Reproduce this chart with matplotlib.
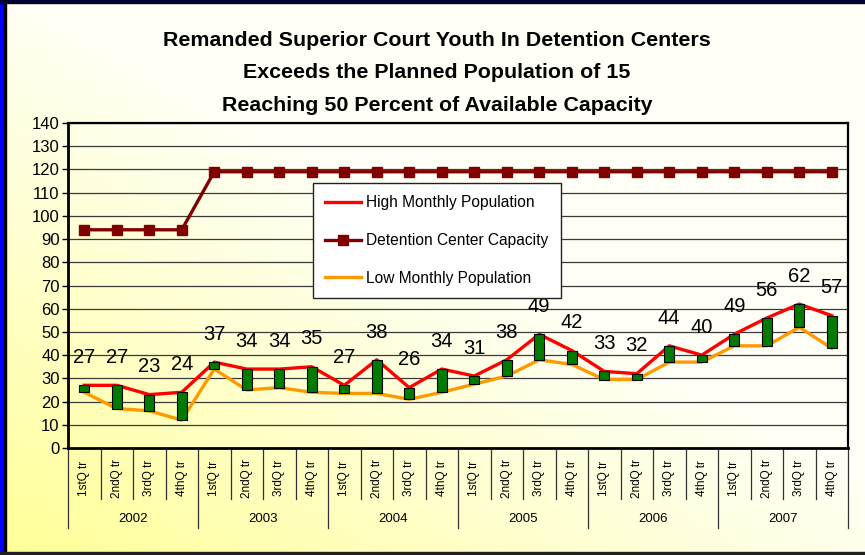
import numpy as np
import matplotlib
matplotlib.use('Agg')
import matplotlib.pyplot as plt
from matplotlib.patches import Rectangle
from matplotlib.lines import Line2D
import matplotlib.transforms as mtrans

years = ['2002', '2003', '2004', '2005', '2006', '2007']
quarters = ['1stQ tr', '2ndQ tr', '3rdQ tr', '4thQ tr']
high = [27, 27, 23, 24, 37, 34, 34, 35, 27, 38, 26, 34,
        31, 38, 49, 42, 33, 32, 44, 40, 49, 56, 62, 57]
low = [24, 17, 16, 12, 34, 25, 26, 24, 23.5, 23.5, 21, 24,
       27.5, 31, 38, 36, 29.5, 29.5, 37, 37, 44, 44, 52, 43]
capacity = [94, 94, 94, 94] + [119] * 20
title_lines = ['Remanded Superior Court Youth In Detention Centers',
               'Exceeds the Planned Population of 15',
               'Reaching 50 Percent of Available Capacity']

FONT = ['Liberation Sans', 'DejaVu Sans']

W, H = 865, 555
fig = plt.figure(figsize=(W / 100, H / 100), dpi=100)

# background gradient
bg = fig.add_axes([0, 0, 1, 1], zorder=-10)
yy, xx = np.mgrid[0:1:200j, 0:1:300j]
t = np.clip(1 - (xx * 0.9 + yy) / 1.05, 0, 1) ** 1.1
c1 = np.array([255, 255, 246]) / 255
c2 = np.array([255, 255, 150]) / 255
img = c1 * (1 - t[..., None]) + c2 * t[..., None]
bg.imshow(img, origin='lower', extent=[0, 1, 0, 1], aspect='auto')
bg.set_xlim(0, 1); bg.set_ylim(0, 1)
bg.axis('off')
# borders
bg.add_patch(Rectangle((0, 0), 4 / W, 1, color='#0000FF', transform=bg.transAxes, zorder=5))
bg.add_patch(Rectangle((4 / W, 0), 1.5 / W, 1, color='#000000', transform=bg.transAxes, zorder=5))
bg.add_patch(Rectangle((0, 1 - 3 / H), 1, 3 / H, color='#000033', transform=bg.transAxes, zorder=5))
bg.add_patch(Rectangle((0, 0), 1, 3 / H, color='#202020', transform=bg.transAxes, zorder=5))

# main axes
ax = fig.add_axes([68 / W, 1 - 448 / H, 780 / W, 325 / H])
ax.patch.set_alpha(0)
x = np.arange(len(high))
ax.plot(x, high, color='#FF0000', lw=2.4, zorder=3, solid_joinstyle='round')
ax.plot(x, low, color='#FF9900', lw=2.4, zorder=3, solid_joinstyle='round')
ax.plot(x, capacity, color='#800000', lw=2.4, marker='s', ms=7.5, zorder=3)
ax.bar(x, np.array(high) - np.array(low), bottom=low, width=0.3,
       color='#007A00', edgecolor='black', lw=0.8, zorder=4)

for xi, h in zip(x, high):
    ax.annotate(str(h), (xi, h), xytext=(0, 20), textcoords='offset points',
                ha='center', va='center', fontsize=14.5, family=FONT, zorder=5)

ax.set_xlim(-0.5, len(high) - 0.5)
ax.set_ylim(0, 140)
ax.set_yticks(np.arange(0, 141, 10))
ax.set_yticklabels([str(v) for v in range(0, 141, 10)], family=FONT, fontsize=12)
ax.tick_params(axis='y', length=4, width=1, direction='out', pad=2)
ax.set_xticks([])
ax.yaxis.grid(True, color='#3a3a3a', lw=0.9)
ax.set_axisbelow(True)
for s in ax.spines.values():
    s.set_color('black')
    s.set_linewidth(1.6)
ax.spines['left'].set_linewidth(2)
ax.spines['bottom'].set_linewidth(2)

# two-level category axis
trans = mtrans.blended_transform_factory(ax.transData, ax.transAxes)
q_y = (448 - 478) / 325
yr_y = (448 - 519) / 325
q_end = (448 - 499) / 325
yr_end = (448 - 528) / 325
for i in range(len(high)):
    ax.text(i, q_y, quarters[i % 4], rotation=90, ha='center', va='center',
            fontsize=8.5, family=FONT, transform=trans, clip_on=False)
for b in range(len(high) + 1):
    bx = b - 0.5
    end = yr_end if b % 4 == 0 else q_end
    ax.add_line(Line2D([bx, bx], [0, end], color='#333333', lw=0.9,
                       transform=trans, clip_on=False))
for j, yr in enumerate(years):
    ax.text(j * 4 + 1.5, yr_y, yr, ha='center', va='center', fontsize=9.5,
            family=FONT, transform=trans, clip_on=False)

# legend
handles = [Line2D([], [], color='#FF0000', lw=2.4),
           Line2D([], [], color='#800000', lw=2.4, marker='s', ms=7.5),
           Line2D([], [], color='#FF9900', lw=2.4)]
labels = ['High Monthly Population', 'Detention Center Capacity', 'Low Monthly Population']
leg = fig.legend(handles, labels, loc='upper left', bbox_to_anchor=(313 / W, 1 - 183 / H),
                 prop={'family': FONT, 'size': 11.2}, frameon=True, fancybox=False,
                 edgecolor='#222222', facecolor='white', framealpha=1,
                 handlelength=2.3, handletextpad=0.3, labelspacing=1.45,
                 borderpad=0.8, borderaxespad=0)
leg.set_zorder(10)
leg.get_frame().set_linewidth(1.0)

# title
for k, line in enumerate(title_lines):
    fig.text(437 / W, 1 - (40 + 32.5 * k) / H, line, ha='center', va='center',
             fontsize=15.4, weight='bold', family=FONT)

fig.savefig('out.png', dpi=100)
